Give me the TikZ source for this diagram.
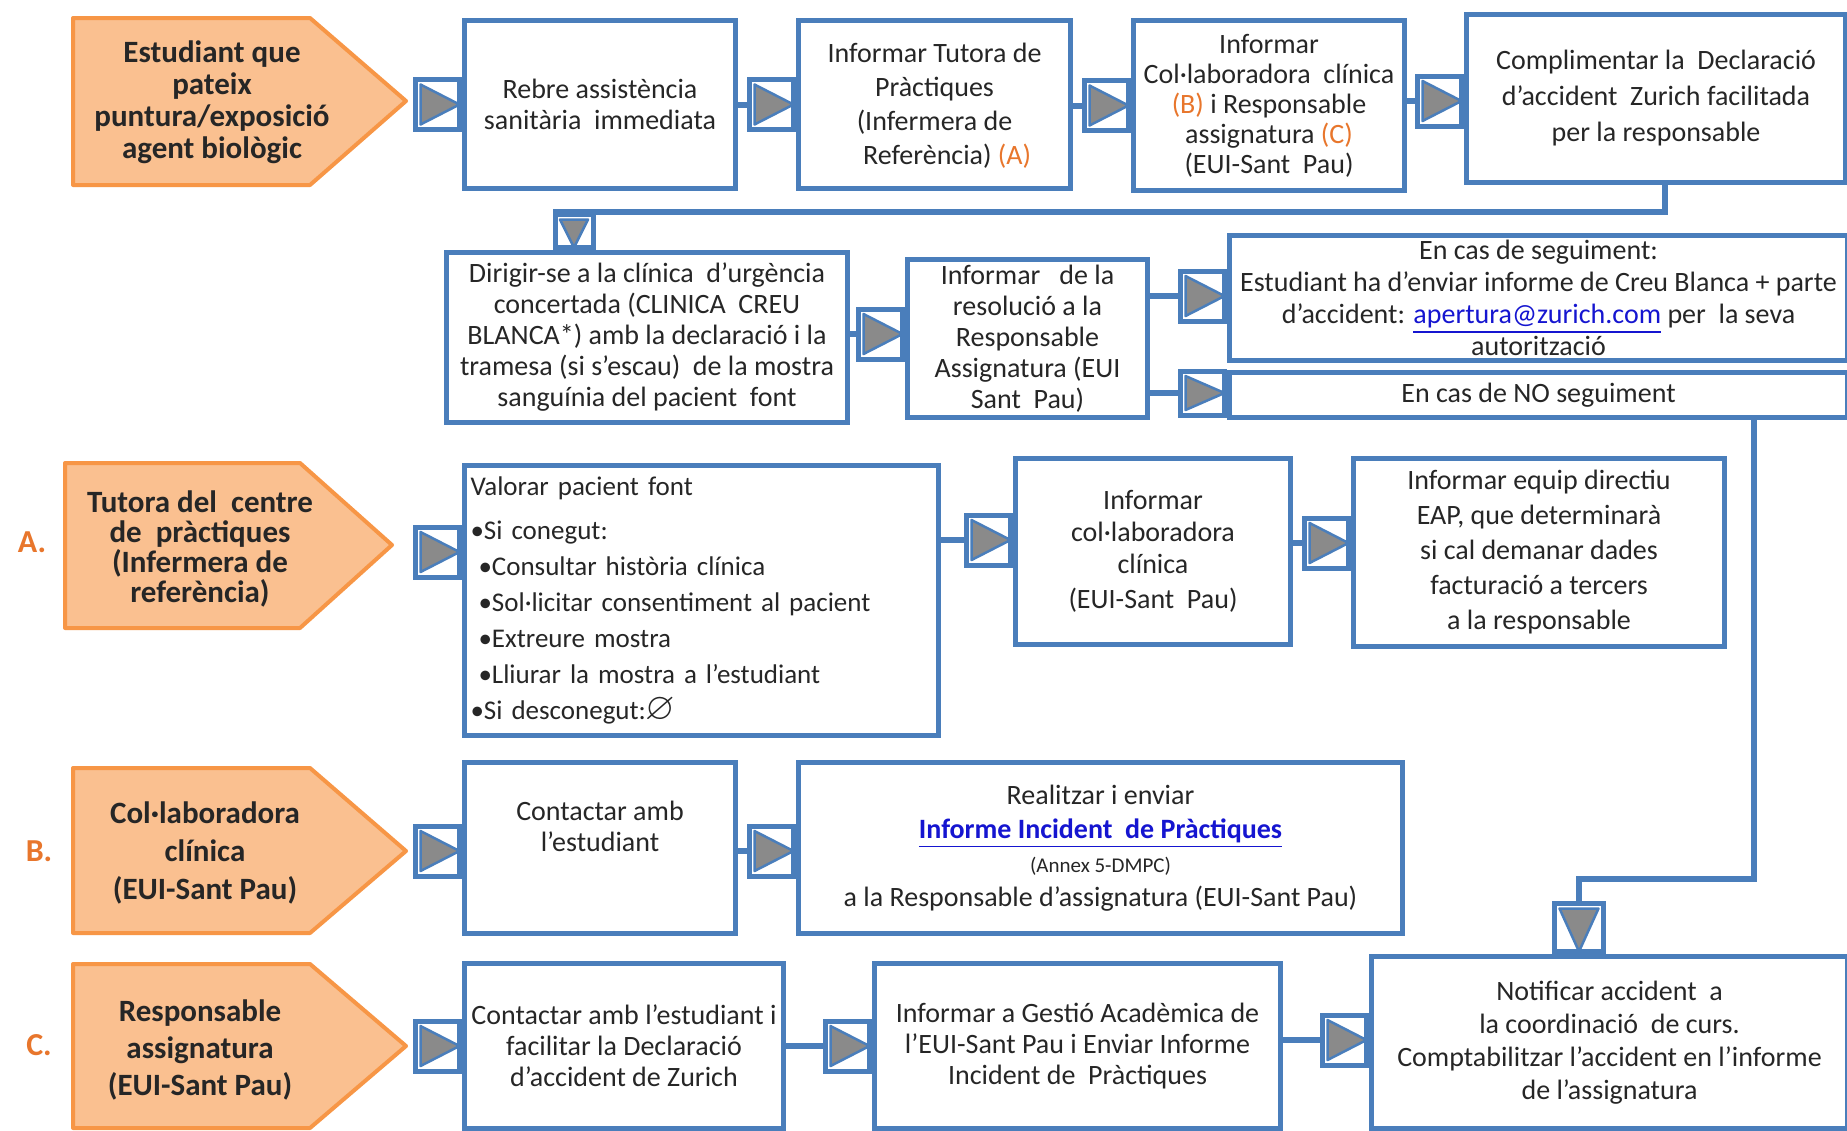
\documentclass[tikz,border=0pt]{standalone}
\usepackage{fontspec}
\setmainfont{Carlito}
\usepackage{amssymb}
\usetikzlibrary{calc,backgrounds}
\definecolor{bblue}{HTML}{4A7EBB}
\definecolor{ofill}{HTML}{FAC090}
\definecolor{oline}{HTML}{F79646}
\definecolor{otext}{HTML}{E8762C}
\definecolor{lnk}{HTML}{1515D0}
\definecolor{tri}{HTML}{8A8A8A}
\definecolor{txt}{HTML}{262626}
\newcommand\ot[1]{\textcolor{otext}{#1}}
\newcommand\fs[2]{\fontsize{#1}{#2}\selectfont}
\tikzset{
  box/.style={draw=bblue, line width=5pt, fill=white, align=center, inner sep=3pt, text=txt, font=\fs{28}{31}},
  xy/.style n args={4}{at={(#1,#2)}, anchor=north west, minimum width=#3pt-#1pt, minimum height=#4pt-#2pt},
  conn/.style={draw=bblue, line width=6pt},
  notchR/.style={draw=bblue, line width=5pt, fill=white, inner sep=0pt, minimum width=44pt, minimum height=50pt,
    path picture={\filldraw[fill=tri, draw=bblue, line width=2.5pt, line join=round]
      ([shift={(5pt,-5pt)}]path picture bounding box.north west) -- (path picture bounding box.east)
      -- ([shift={(5pt,5pt)}]path picture bounding box.south west) -- cycle;}},
  notchD/.style={draw=bblue, line width=5pt, fill=white, inner sep=0pt,
    path picture={\filldraw[fill=tri, draw=bblue, line width=2.5pt, line join=round]
      ([shift={(5pt,-5pt)}]path picture bounding box.north west) -- ([shift={(-5pt,-5pt)}]path picture bounding box.north east)
      -- (path picture bounding box.south) -- cycle;}},
  pent/.style={draw=oline, line width=4pt, fill=ofill, line join=round},
  ptext/.style={font=\bfseries\fs{31}{31}, align=center, text=black!85},
  lab/.style={font=\bfseries\fs{32}{32}, text=otext},
}
\begin{document}
\begin{tikzpicture}[x=1pt, y=-1pt]
\useasboundingbox (0,0) rectangle (1847,1130);
\begin{scope}[on background layer]
\fill[white] (0,0) rectangle (1847,1130);
\end{scope}

% ---------- pentagons ----------
\draw[pent] (73,18) -- (310,18) -- (406,101) -- (310,185) -- (73,185) -- cycle;
\node[ptext, font=\bfseries\fs{31}{32}] (pt1) at (212,102) {Estudiant que\\pateix\\puntura/exposició\\agent biològic};
\draw[pent] (65,463) -- (300,463) -- (392,545) -- (300,628) -- (65,628) -- cycle;
\node[ptext, font=\bfseries\fs{31}{30}] (pta) at (200,549) {Tutora del\ \ centre\\de\ \ pràctiques\\(Infermera de\\referència)};
\draw[pent] (73,768) -- (310,768) -- (406,851) -- (310,933) -- (73,933) -- cycle;
\node[ptext, font=\bfseries\fs{31}{38}] (ptb) at (205,853) {Col·laboradora\\clínica\\(EUI-Sant Pau)};
\draw[pent] (73,964) -- (310,964) -- (406,1046) -- (310,1128) -- (73,1128) -- cycle;
\node[ptext, font=\bfseries\fs{31}{37}] (ptc) at (200,1050) {Responsable\\assignatura\\(EUI-Sant Pau)};

\node[lab] (la) at (32,542) {A.};
\node[lab] (lb) at (39,851) {B.};
\node[lab] (lc) at (39,1045) {C.};

% ---------- row 1 ----------
\node[box, xy={462}{18}{733}{186}] (rebre) {Rebre assistència\\sanitària\ \ immediata};
\node[box, xy={796}{18}{1068}{186}, font=\fs{28}{34}] (tutora) {\\[-12pt]Informar Tutora de\\Pràctiques\\(Infermera de\\\ \ \ \ Referència) \ot{(A)}};
\node[box, xy={1131}{18}{1402}{188}, font=\fs{28}{30}] (colb) {Informar\\Col·laboradora\ \ clínica\\\ot{(B)} i Responsable\\assignatura \ot{(C)}\\(EUI-Sant\ \ Pau)};
\node[box, xy={1464}{12}{1843}{180}, font=\fs{28}{36}] (compl) {Complimentar la\ \ Declaració\\d'accident\ \ Zurich facilitada\\per la responsable};

\node[notchR, anchor=east] (n1) at (rebre.west) {};
\node[notchR, anchor=east] (n2) at (tutora.west) {};
\node[notchR, anchor=east] (n3) at (colb.west) {};
\node[notchR, anchor=east] (n4) at (1464,101) {};

% ---------- row 2 ----------
\node[box, xy={444}{250}{845}{420}] (dirigir) {Dirigir-se a la clínica\ \ d’urgència\\concertada (CLINICA\ \ CREU\\BLANCA*) amb la declaració i la\\tramesa (si s’escau)\ \ de la mostra\\sanguínia del pacient\ \ font};
\node[notchD, anchor=south, minimum width=38pt, minimum height=33pt] (nd1) at ([xshift=130pt]dirigir.north west) {};
\node[box, xy={905}{257}{1145}{415}, font=\fs{28}{31}] (resol) {Informar\ \ \ de la\\resolució a la\\Responsable\\Assignatura (EUI\\Sant\ \ Pau)};
\node[notchR, anchor=east] (n5) at (905,334) {};
\node[box, xy={1227}{233}{1845}{358}, font=\fs{28}{32}] (segu) {En cas de seguiment:\\Estudiant ha d’enviar informe de Creu Blanca + parte\\d’accident: \textcolor{lnk}{\underline{apertura@zurich.com}} per\ \ la seva\\autorització};
\node[notchR, anchor=east] (n6) at (1227,296) {};
\node[box, xy={1227}{370}{1845}{415}] (nos) {En cas de NO seguiment};
\node[notchR, anchor=east, minimum height=44pt] (n7) at (1227,393) {};

% ---------- row A ----------
\node[box, xy={462}{463}{936}{733}, align=left, text width=462pt, inner sep=4pt, font=\fs{27}{36}] (valorar) {Valorar pacient font\\[8pt]
•Si conegut:\\
\hspace*{8pt}•Consultar història clínica\\
\hspace*{8pt}•Sol·licitar consentiment al pacient\\
\hspace*{8pt}•Extreure mostra\\
\hspace*{8pt}•Lliurar la mostra a l'estudiant\\
•Si desconegut:{\fs{38}{36}$\varnothing$}};
\node[notchR, anchor=east] (nA1) at (462,552) {};
\node[box, xy={1013}{456}{1288}{642}, font=\fs{28}{32}] (colc) {Informar\\col·laboradora\\clínica\\[3pt](EUI-Sant\ \ Pau)};
\node[notchR, anchor=east] (nA2) at (1013,540) {};
\node[box, xy={1351}{456}{1722}{644}, font=\fs{28}{35}] (equip) {Informar equip directiu\\EAP, que determinarà\\si cal demanar dades\\facturació a tercers\\a la responsable};
\node[notchR, anchor=east] (nA3) at (1351,543) {};

% ---------- row B ----------
\node[box, xy={462}{760}{733}{931}] (contb) {Contactar amb\\l’estudiant\\[12pt]};
\node[notchR, anchor=east] (nB1) at (462,851) {};
\node[box, xy={796}{760}{1400}{931}, font=\fs{28}{34}] (realitz) {Realitzar i enviar\\\textcolor{lnk}{\bfseries\underline{Informe Incident\ \ de Pràctiques}}\\{\fs{21}{34}(Annex 5-DMPC)}\\a la Responsable d’assignatura (EUI-Sant Pau)};
\node[notchR, anchor=east] (nB2) at (796,851) {};

% ---------- row C ----------
\node[box, xy={462}{961}{781}{1126}] (contc) {Contactar amb l’estudiant i\\facilitar la Declaració\\d’accident de Zurich};
\node[notchR, anchor=east] (nC1) at (462,1046) {};
\node[box, xy={872}{961}{1278}{1126}] (gestio) {Informar a Gestió Acadèmica de\\l’EUI-Sant Pau i Enviar Informe\\Incident de\ \ Pràctiques};
\node[notchR, anchor=east] (nC2) at (872,1046) {};
\node[box, xy={1369}{954}{1845}{1126}, font=\fs{28}{33}] (notif) {Notificar accident\ \ a\\la coordinació\ \ de curs.\\Comptabilitzar l’accident en l’informe\\de l’assignatura};
\node[notchR, anchor=east] (nC3) at (1369,1040) {};
\node[notchD, anchor=south, minimum width=49pt, minimum height=48pt] (nd2) at ([xshift=210pt]notif.north west) {};

% ---------- connectors ----------
\begin{scope}[on background layer]
\draw[conn] (n2.west -| rebre.east) -- (n2.west);
\draw[conn] (n3.west -| tutora.east) -- (n3.west);
\draw[conn] (n4.west -| colb.east) -- (n4.west);
\draw[conn] ([xshift=9pt]compl.south) |- (nd1.north west);
\draw[conn] (n5.west -| dirigir.east) -- (n5.west);
\draw[conn] (n6.west -| resol.east) -- (n6.west);
\draw[conn] (n7.west -| resol.east) -- (n7.west);
\draw[conn] ([xshift=-96pt]nos.south east) -- ++(0,459) -| (nd2.north);
\draw[conn] (nA2.west -| valorar.east) -- (nA2.west);
\draw[conn] (nA3.west -| colc.east) -- (nA3.west);
\draw[conn] (nB2.west -| contb.east) -- (nB2.west);
\draw[conn] (nC2.west -| contc.east) -- (nC2.west);
\draw[conn] (nC3.west -| gestio.east) -- (nC3.west);
\end{scope}
\end{tikzpicture}
\end{document}
